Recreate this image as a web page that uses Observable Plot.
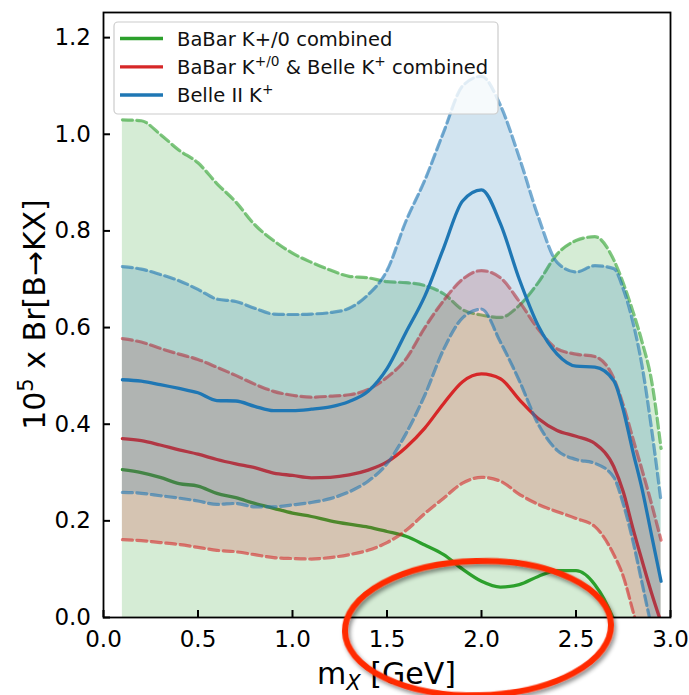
<!DOCTYPE html>
<html><head><meta charset="utf-8">
<script src="https://cdn.jsdelivr.net/npm/d3@7"></script>
<script src="https://cdn.jsdelivr.net/npm/@observablehq/plot@0.6"></script>
<style>
html,body{margin:0;padding:0;background:#fff;}
#chart{width:689px;height:695px;}
</style></head><body><div id="chart"></div>
<script>
// ---- data ----
const mx = [0.10,0.20,0.30,0.40,0.50,0.60,0.70,0.80,0.90,1.00,1.10,1.20,1.30,1.40,1.50,1.60,1.70,1.80,1.90,2.00,2.10,2.20,2.30,2.40,2.50,2.60,2.70,2.75,2.80,2.85,2.90,2.95];

const greenUpper   = [1.030,1.028,1.000,0.967,0.941,0.898,0.860,0.813,0.780,0.754,0.735,0.719,0.706,0.703,0.695,0.693,0.687,0.670,0.637,0.626,0.621,0.646,0.693,0.752,0.780,0.788,0.740,0.692,0.635,0.570,0.490,0.350];
const greenCentral = [0.306,0.300,0.290,0.277,0.272,0.257,0.248,0.236,0.226,0.216,0.209,0.200,0.193,0.187,0.178,0.168,0.150,0.130,0.100,0.075,0.063,0.068,0.085,0.097,0.097,0.068,-0.005,-0.060,null,null,null,null];

const redUpper     = [0.577,0.570,0.557,0.545,0.534,0.518,0.501,0.483,0.468,0.460,0.456,0.458,0.461,0.472,0.497,0.535,0.600,0.656,0.700,0.718,0.703,0.654,0.597,0.556,0.545,0.540,0.495,0.440,0.372,0.305,0.235,0.160];
const redCentral   = [0.370,0.366,0.357,0.347,0.338,0.327,0.318,0.310,0.299,0.294,0.289,0.290,0.295,0.305,0.322,0.352,0.392,0.443,0.488,0.504,0.494,0.451,0.412,0.387,0.375,0.360,0.312,0.260,0.186,0.117,0.050,-0.010];
const redLower     = [0.161,0.159,0.155,0.151,0.145,0.139,0.136,0.130,0.124,0.122,0.121,0.124,0.130,0.139,0.155,0.180,0.215,0.247,0.278,0.290,0.282,0.255,0.234,0.219,0.205,0.188,0.130,0.085,0.015,-0.060,-0.130,-0.200];

const blueUpper    = [0.726,0.721,0.710,0.697,0.679,0.659,0.654,0.640,0.628,0.627,0.628,0.631,0.640,0.668,0.718,0.820,0.905,1.005,1.100,1.120,1.060,0.952,0.830,0.735,0.715,0.728,0.722,0.680,0.613,0.520,0.390,0.240];
const blueCentral  = [0.492,0.489,0.482,0.474,0.465,0.449,0.448,0.437,0.428,0.428,0.431,0.436,0.447,0.468,0.515,0.590,0.665,0.765,0.862,0.885,0.815,0.700,0.604,0.545,0.520,0.518,0.490,0.430,0.345,0.265,0.170,0.075];
const blueLower    = [0.259,0.257,0.252,0.247,0.241,0.234,0.236,0.229,0.229,0.233,0.238,0.246,0.260,0.282,0.318,0.380,0.460,0.555,0.620,0.638,0.570,0.490,0.400,0.346,0.327,0.319,0.290,0.235,0.160,0.070,-0.020,-0.100];

const seriesNames  = ["BaBar K+/0 combined", "BaBar K+/0 & Belle K+ combined", "Belle II K+"];
const seriesColors = ["#2ca02c", "#d62728", "#1f77b4"];
// legend text segments: [text, isSuperscript]
const legendLabels = [
  [["BaBar K+/0 combined", false]],
  [["BaBar K", false], ["+/0", true], [" & Belle K", false], ["+", true], [" combined", false]],
  [["Belle II K", false], ["+", true]]
];
const xTicks = [0.0, 0.5, 1.0, 1.5, 2.0, 2.5, 3.0];
const yTicks = [0.0, 0.2, 0.4, 0.6, 0.8, 1.0, 1.2];

// annotation ellipse (data coordinates)
const ellipseCenter = [1.984, -0.023];
const ellipseRadii = [0.704, 0.139];

// ---- build table ----
const rows = mx.map((x, i) => ({
  x,
  gU: greenUpper[i], gC: greenCentral[i],
  rU: redUpper[i], rC: redCentral[i], rL: redLower[i],
  bU: blueUpper[i], bC: blueCentral[i], bL: blueLower[i]
}));

const series = [
  {color: seriesColors[0], lo: null, mid: "gC", hi: "gU"},
  {color: seriesColors[1], lo: "rL", mid: "rC", hi: "rU"},
  {color: seriesColors[2], lo: "bL", mid: "bC", hi: "bU"}
];

const curve = "monotone-x";
const marks = [];
for (const s of series) {
  if (s.lo) marks.push(Plot.areaY(rows, {x: "x", y1: s.lo, y2: s.hi, fill: s.color, fillOpacity: 0.2, curve, clip: true}));
  else marks.push(Plot.areaY(rows, {x: "x", y: s.hi, fill: s.color, fillOpacity: 0.2, curve, clip: true}));
  const dash = {x: "x", stroke: s.color, strokeOpacity: 0.6, strokeWidth: 3.2, strokeDasharray: "10,4.5", curve, clip: true};
  marks.push(Plot.line(rows, {...dash, y: s.hi}));
  if (s.lo) marks.push(Plot.line(rows, {...dash, y: s.lo}));
  marks.push(Plot.line(rows, {x: "x", y: s.mid, stroke: s.color, strokeWidth: 3.3, curve, clip: true}));
}
marks.push(Plot.axisX({ticks: xTicks, tickFormat: d => d.toFixed(1), tickSize: -7, tickPadding: 20, strokeWidth: 2, fontSize: 23, label: null}));
marks.push(Plot.axisY({ticks: yTicks, tickFormat: d => d.toFixed(1), tickSize: -7, tickPadding: 19.5, strokeWidth: 2, fontSize: 23, label: null}));
marks.push(Plot.frame({stroke: "black", strokeWidth: 1.8}));

const plot = Plot.plot({
  width: 689, height: 695,
  marginLeft: 103, marginRight: 19, marginTop: 12, marginBottom: 78,
  x: {domain: [0, 3]},
  y: {domain: [0, 1.252]},
  style: {fontFamily: "DejaVu Sans", color: "black", background: "white", overflow: "visible"},
  marks
});

const svg = d3.select(plot);
const NS = "DejaVu Sans";

// legend
const lg = svg.append("g").attr("text-anchor", "start");
lg.append("rect").attr("x", 114).attr("y", 22).attr("width", 384).attr("height", 92).attr("rx", 4)
  .attr("fill", "white").attr("fill-opacity", 0.8).attr("stroke", "#cccccc").attr("stroke-width", 1.2);
const rowY = [38.5, 66.8, 95];
legendLabels.forEach((segs, i) => {
  lg.append("line").attr("x1", 120).attr("x2", 163).attr("y1", rowY[i]).attr("y2", rowY[i])
    .attr("stroke", seriesColors[i]).attr("stroke-width", 3.3);
  const t = lg.append("text").attr("x", 177).attr("y", rowY[i] + 7).attr("text-anchor", "start")
    .attr("font-family", NS).attr("font-size", 19.5).attr("fill", "#111");
  let up = false;
  segs.forEach(([txt, sup]) => {
    const ts = t.append("tspan").text(txt);
    if (sup && !up) { ts.attr("dy", -8).attr("font-size", 13.7); up = true; }
    else if (sup) { ts.attr("font-size", 13.7); }
    else if (up) { ts.attr("dy", 8); up = false; }
  });
});

// axis labels
const xl = svg.append("text").attr("x", 386.5).attr("y", 684).attr("text-anchor", "middle")
  .attr("font-family", NS).attr("font-size", 30).attr("fill", "black");
xl.append("tspan").text("m");
xl.append("tspan").text("X").attr("font-size", 21).attr("font-style", "italic").attr("dy", 6);
xl.append("tspan").text(" [GeV]").attr("dy", -6);

const yl = svg.append("text").attr("transform", "translate(45,314.5) rotate(-90)").attr("text-anchor", "middle")
  .attr("font-family", NS).attr("font-size", 30).attr("fill", "black");
yl.append("tspan").text("10");
yl.append("tspan").text("5").attr("font-size", 21).attr("dy", -12);
yl.append("tspan").text(" x Br[B\u2192KX]").attr("dy", 12);

// annotation ellipse via the plot's scales
const sx = plot.scale("x"), sy = plot.scale("y");
const ecx = sx.apply(ellipseCenter[0]), ecy = sy.apply(ellipseCenter[1]);
const erx = sx.apply(ellipseCenter[0] + ellipseRadii[0]) - ecx;
const ery = ecy - sy.apply(ellipseCenter[1] + ellipseRadii[1]);
const defs = svg.append("defs");
const f = defs.append("filter").attr("id", "shadow").attr("x", "-20%").attr("y", "-20%").attr("width", "140%").attr("height", "140%");
f.append("feDropShadow").attr("dx", 2).attr("dy", 3).attr("stdDeviation", 2).attr("flood-color", "#000").attr("flood-opacity", 0.45);
svg.append("ellipse").attr("cx", ecx).attr("cy", ecy).attr("rx", erx).attr("ry", ery)
  .attr("transform", `rotate(-1.5 ${ecx} ${ecy})`)
  .attr("fill", "none").attr("stroke", "#ff2a00").attr("stroke-width", 6).attr("filter", "url(#shadow)");

document.getElementById("chart").appendChild(plot);
</script></body></html>
